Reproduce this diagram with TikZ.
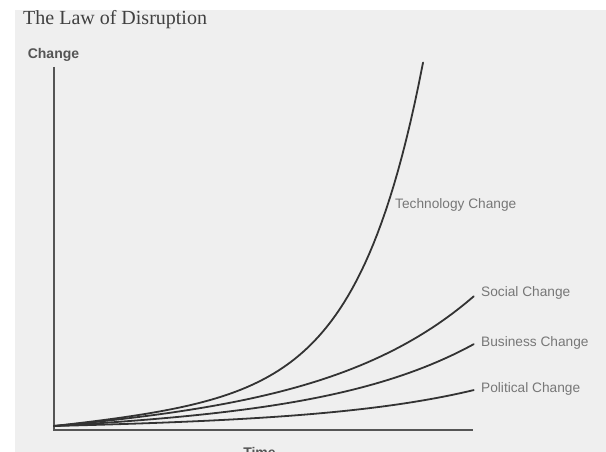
\documentclass[tikz,border=0pt]{standalone}
\usepackage{fontspec}
\setmainfont{Liberation Sans}
\newfontfamily\titlefont{Liberation Serif}
\usepackage{xcolor}
\definecolor{paper}{HTML}{EFEFEF}
\definecolor{ink}{HTML}{333333}
\definecolor{labelgray}{HTML}{777777}
\definecolor{axisgray}{HTML}{555555}

\begin{document}
\begin{tikzpicture}[x=1pt,y=-1pt,
  curve/.style={draw=ink,line width=1.8pt,line cap=round},
  lbl/.style={anchor=west,inner sep=0pt,text=labelgray,font=\fontsize{13.7}{16}\selectfont},
  axislbl/.style={inner sep=0pt,text=axisgray,font=\fontsize{14}{16}\selectfont\bfseries},
  declare function={grow(\t)=21.3*\t+5.69*(exp(3*\t)-1);}]
\useasboundingbox (0,0) rectangle (606,452);
% scanned page
\fill[white] (0,0) rectangle (606,452);
\fill[paper] (15,10) rectangle (606,452);
% title
\node[anchor=base west,inner sep=0pt,text=black!75,font=\titlefont\fontsize{20}{22}\selectfont] (title) at (23,25) {The Law of Disruption};
% axes
\node[axislbl] (change) at (53.5,55) {Change};
\node[axislbl,anchor=base] (time) at (259.5,457) {Time};
\draw[axisgray,line width=1.5pt] (54,67) -- (54,430) -- (473,430);
% the four curves
\coordinate (origin) at (54,426);
\draw[curve] plot[domain=0:0.879,samples=90] ({54+420*\x},{426-40*\x-1.09*(exp(6.5*\x)-1)}) coordinate (tech end);
\draw[curve] plot[domain=0:1,samples=60] ({54+420*\x},{426-grow(\x)}) coordinate (social end);
\draw[curve] plot[domain=0:1,samples=60] ({54+420*\x},{426-0.631*grow(\x)}) coordinate (business end);
\draw[curve] plot[domain=0:1,samples=60] ({54+420*\x},{426-0.277*grow(\x)}) coordinate (political end);
% labels
\node[lbl] (tech) at (395,205) {Technology Change};
\node[lbl] (social) at (481,293) {Social Change};
\node[lbl] (business) at (481,343) {Business Change};
\node[lbl] (political) at (481,389) {Political Change};
\end{tikzpicture}
\end{document}
